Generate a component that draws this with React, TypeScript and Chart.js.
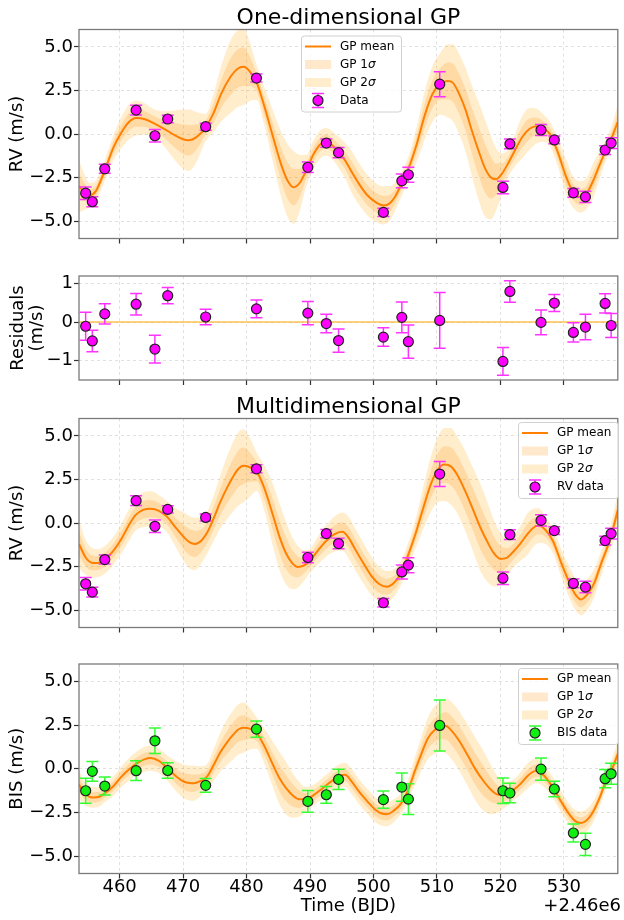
import React, { useEffect, useRef } from "react";
import { Chart, registerables } from "chart.js";

Chart.register(...registerables);

const FONT = "'DejaVu Sans', 'Liberation Sans', sans-serif";
const W = 624;
const H = 920;
const X_MIN = 453.6;
const X_MAX = 538.5;

// ---- observations ----
const obsTime = [454.65, 455.7, 457.66, 462.6, 465.56, 467.58, 473.56, 481.56, 489.66, 492.57, 494.5, 501.56, 504.47, 505.5, 510.44, 520.4, 521.5, 526.4, 528.5, 531.5, 533.4, 536.5, 537.45];
const rvOneDim = [-3.4, -3.89, -2.0, 1.37, -0.1, 0.86, 0.42, 3.21, -1.91, -0.52, -1.07, -4.5, -2.69, -2.34, 2.86, -3.07, -0.57, 0.23, -0.34, -3.38, -3.61, -0.92, -0.52];
const rvErr = [0.36, 0.28, 0.26, 0.28, 0.36, 0.21, 0.2, 0.23, 0.3, 0.24, 0.3, 0.24, 0.4, 0.43, 0.72, 0.36, 0.28, 0.32, 0.22, 0.25, 0.33, 0.25, 0.31];
const residuals = [-0.11, -0.49, 0.21, 0.46, -0.7, 0.68, 0.13, 0.34, 0.23, -0.04, -0.48, -0.39, 0.12, -0.51, 0.04, -1.02, 0.79, -0.01, 0.49, -0.27, -0.13, 0.48, -0.09];
const rvMulti = [-3.49, -3.97, -2.1, 1.28, -0.19, 0.78, 0.32, 3.11, -1.98, -0.61, -1.18, -4.58, -2.81, -2.42, 2.81, -3.17, -0.67, 0.15, -0.44, -3.47, -3.68, -1.01, -0.61];
const bisValues = [-1.26, -0.15, -0.99, -0.11, 1.6, -0.1, -0.95, 2.27, -1.87, -1.49, -0.61, -1.77, -1.05, -1.74, 2.48, -1.26, -1.39, -0.02, -1.16, -3.68, -4.33, -0.57, -0.29];
const bisErr = [0.72, 0.57, 0.52, 0.57, 0.73, 0.45, 0.39, 0.46, 0.62, 0.48, 0.58, 0.49, 0.81, 0.88, 1.46, 0.73, 0.56, 0.64, 0.45, 0.51, 0.64, 0.52, 0.6];

// ---- GP predictions: [time, mean, sigma] ----
const gpOneDim: number[][] = [
  [453.6, -3.0, 0.75], [454.5, -3.35, 0.5], [455.3, -3.52, 0.35], [456.3, -3.25, 0.3], [457.7, -2.05, 0.3],
  [459.0, -0.8, 0.35], [460.3, 0.1, 0.45], [461.5, 0.7, 0.5], [462.6, 0.92, 0.5], [464.0, 0.85, 0.45],
  [465.5, 0.6, 0.4], [467.0, 0.3, 0.5], [468.6, -0.05, 0.7], [470.0, -0.3, 0.85], [470.9, -0.36, 0.88],
  [472.2, -0.15, 0.7], [473.5, 0.35, 0.4], [474.8, 1.2, 0.55], [476.0, 2.3, 0.8], [477.5, 3.3, 1.05],
  [478.6, 3.75, 1.1], [479.5, 3.86, 1.1], [480.5, 3.6, 0.85], [481.6, 2.95, 0.5], [482.8, 1.6, 0.55],
  [484.2, -0.2, 0.75], [485.5, -1.8, 0.95], [486.5, -2.7, 1.05], [487.4, -3.06, 1.05], [488.4, -2.8, 0.8],
  [489.4, -2.1, 0.45], [490.5, -1.2, 0.4], [491.6, -0.6, 0.4], [492.6, -0.45, 0.4], [493.5, -0.65, 0.4],
  [494.5, -1.05, 0.45], [495.5, -1.5, 0.5], [496.6, -2.2, 0.6], [497.7, -2.85, 0.6], [499.0, -3.5, 0.58],
  [500.5, -3.95, 0.55], [501.6, -4.1, 0.55], [502.5, -4.0, 0.5], [503.4, -3.6, 0.4], [504.5, -2.8, 0.35],
  [505.5, -2.0, 0.35], [506.8, -0.6, 0.5], [508.1, 1.1, 0.7], [509.3, 2.3, 0.8], [510.6, 2.9, 0.9],
  [511.7, 3.05, 1.05], [512.5, 2.95, 1.1], [513.5, 2.3, 1.15], [514.5, 1.4, 1.2], [515.5, 0.2, 1.3],
  [516.5, -0.9, 1.4], [517.5, -1.9, 1.4], [518.5, -2.5, 1.2], [519.3, -2.6, 0.9], [520.2, -2.3, 0.6],
  [521.2, -1.7, 0.4], [522.2, -1.0, 0.45], [523.4, -0.2, 0.6], [524.6, 0.3, 0.6], [525.7, 0.45, 0.5],
  [526.7, 0.35, 0.4], [527.8, 0.0, 0.35], [529.0, -1.0, 0.4], [530.4, -2.5, 0.5], [531.5, -3.35, 0.45],
  [532.7, -3.62, 0.45], [533.7, -3.35, 0.45], [534.6, -2.7, 0.5], [535.6, -1.8, 0.4], [536.6, -0.95, 0.3],
  [537.5, -0.25, 0.35], [538.5, 0.7, 0.5],
];

const gpMultiRV: number[][] = [
  [453.6, -1.2, 0.7], [454.6, -1.95, 0.5], [455.6, -2.28, 0.43], [456.6, -2.3, 0.4], [457.7, -2.1, 0.4],
  [459.0, -1.6, 0.4], [460.3, -0.9, 0.42], [461.5, -0.1, 0.45], [462.5, 0.45, 0.45], [463.7, 0.75, 0.5],
  [464.9, 0.82, 0.5], [466.2, 0.7, 0.45], [467.5, 0.35, 0.45], [468.8, -0.25, 0.55], [470.1, -0.8, 0.7],
  [471.0, -1.1, 0.75], [471.9, -1.2, 0.75], [472.9, -1.0, 0.65], [473.8, -0.55, 0.6], [474.8, 0.25, 0.65],
  [475.8, 1.15, 0.75], [476.9, 2.0, 0.9], [477.9, 2.67, 1.0], [478.7, 3.1, 1.05], [479.5, 3.28, 1.05],
  [480.5, 3.2, 0.85], [481.6, 2.95, 0.55], [482.8, 2.0, 0.65], [484.2, 0.4, 0.9], [485.2, -0.8, 0.95],
  [486.2, -1.72, 0.9], [487.2, -2.3, 0.75], [488.1, -2.52, 0.6], [489.0, -2.45, 0.45], [489.9, -2.2, 0.35],
  [491.2, -1.6, 0.4], [492.5, -1.05, 0.45], [493.8, -0.65, 0.5], [495.1, -0.5, 0.55], [496.1, -0.85, 0.6],
  [497.1, -1.5, 0.6], [498.4, -2.3, 0.58], [499.7, -3.05, 0.55], [500.9, -3.5, 0.5], [502.1, -3.66, 0.45],
  [503.2, -3.45, 0.4], [504.2, -2.96, 0.35], [505.3, -2.0, 0.35], [506.5, -0.76, 0.4], [507.8, 0.8, 0.6],
  [509.1, 2.29, 0.8], [510.2, 3.1, 0.95], [511.2, 3.36, 1.05], [512.2, 3.25, 1.1], [513.2, 2.77, 1.1],
  [514.5, 1.8, 1.15], [515.8, 0.67, 1.2], [516.9, -0.3, 1.25], [517.9, -1.05, 1.15], [519.0, -1.75, 0.95],
  [520.0, -2.06, 0.75], [521.0, -2.0, 0.55], [522.1, -1.62, 0.45], [523.2, -1.15, 0.5], [524.2, -0.67, 0.6],
  [525.1, -0.3, 0.55], [526.0, -0.15, 0.5], [527.1, -0.4, 0.4], [528.3, -1.05, 0.35], [529.6, -2.3, 0.4],
  [530.9, -3.44, 0.45], [531.8, -4.1, 0.45], [532.7, -4.39, 0.45], [533.7, -4.1, 0.45], [534.8, -3.44, 0.4],
  [535.9, -2.3, 0.35], [536.9, -1.34, 0.3], [537.7, -0.4, 0.4], [538.5, 0.75, 0.5],
];

const gpMultiBIS: number[][] = [
  [453.6, -0.9, 0.4], [454.6, -1.45, 0.33], [455.8, -1.64, 0.3], [456.8, -1.6, 0.28], [457.7, -1.4, 0.25],
  [459.0, -1.0, 0.28], [460.3, -0.45, 0.3], [461.6, 0.0, 0.33], [462.9, 0.35, 0.35], [464.0, 0.55, 0.36],
  [464.9, 0.61, 0.36], [466.2, 0.45, 0.35], [467.5, 0.05, 0.36], [468.8, -0.4, 0.42], [470.1, -0.73, 0.48],
  [471.0, -0.82, 0.5], [471.7, -0.83, 0.5], [472.8, -0.7, 0.42], [473.8, -0.44, 0.36], [474.8, 0.2, 0.45],
  [475.8, 0.9, 0.55], [476.9, 1.5, 0.65], [477.9, 1.95, 0.7], [478.7, 2.25, 0.72], [479.5, 2.35, 0.72],
  [480.5, 2.3, 0.6], [481.6, 2.04, 0.45], [482.8, 1.3, 0.5], [484.2, 0.2, 0.65], [485.2, -0.55, 0.75],
  [486.2, -1.1, 0.75], [487.2, -1.5, 0.65], [488.3, -1.75, 0.5], [489.3, -1.75, 0.35], [490.4, -1.55, 0.3],
  [491.7, -1.2, 0.3], [493.0, -0.82, 0.3], [494.4, -0.45, 0.33], [495.5, -0.35, 0.35], [496.6, -0.75, 0.36],
  [497.7, -1.3, 0.36], [499.0, -1.85, 0.36], [500.3, -2.35, 0.36], [501.2, -2.55, 0.35], [502.1, -2.6, 0.35],
  [503.2, -2.4, 0.33], [504.4, -1.97, 0.3], [505.5, -1.2, 0.32], [506.5, -0.15, 0.4], [507.6, 0.9, 0.5],
  [508.6, 1.76, 0.6], [509.6, 2.2, 0.68], [510.6, 2.42, 0.72], [511.4, 2.45, 0.78], [512.2, 2.23, 0.82],
  [513.5, 1.6, 0.85], [514.8, 0.8, 0.88], [516.1, -0.05, 0.9], [517.4, -0.73, 0.85], [518.5, -1.2, 0.7],
  [519.7, -1.49, 0.5], [520.9, -1.45, 0.35], [522.1, -1.2, 0.3], [523.2, -0.85, 0.33], [524.2, -0.44, 0.36],
  [525.0, -0.2, 0.36], [525.7, -0.11, 0.35], [526.9, -0.4, 0.32], [528.3, -1.1, 0.3], [529.6, -1.9, 0.3],
  [530.9, -2.63, 0.3], [531.8, -3.0, 0.32], [532.7, -3.11, 0.33], [533.6, -2.95, 0.32], [534.5, -2.54, 0.3],
  [535.6, -1.7, 0.27], [536.6, -0.73, 0.26], [537.5, -0.1, 0.3], [538.5, 0.85, 0.35],
];

// ---- ticks ----
const xTicks = [460, 470, 480, 490, 500, 510, 520, 530];
const rvTicks = [-5, -2.5, 0, 2.5, 5];
const resTicks = [-1, 0, 1];

// ---- styles ----
const MEAN_COLOR = "#ff8000";
const SIG1_COLOR = "rgba(255,140,0,0.2)";
const SIG2_COLOR = "rgba(255,165,0,0.2)";
const MAGENTA = "#ff00ff";
const MAGENTA_ERR = "#ff33ff";
const GREEN = "#11ee11";
const GREEN_ERR = "#33ff33";
const GRID = "rgba(170,170,170,0.45)";
const FRAME = "#7a7a7a";

type Panel = {
  top: number;
  bottom: number;
  yMin: number;
  yMax: number;
  yTicks: number[];
  yFmt: (v: number) => string;
  yTitle: string | string[];
  yTitlePad: number;
  yTitleLH: number;
  title?: string;
  gp?: number[][];
  zeroLine?: boolean;
  values: number[];
  errors: number[];
  fill: string;
  errColor: string;
  legend?: { x: number; y: number; label: string };
  xLabels: boolean;
};

const minus = (s: string) => s.replace("-", "\u2212");

const panels: Panel[] = [
  {
    top: 29.5, bottom: 238.5, yMin: -6, yMax: 6, yTicks: rvTicks,
    yFmt: (v) => minus(v.toFixed(1)), yTitle: "RV (m/s)", yTitlePad: 7, yTitleLH: 1.2,
    title: "One-dimensional GP", gp: gpOneDim, values: rvOneDim, errors: rvErr,
    fill: MAGENTA, errColor: MAGENTA_ERR, legend: { x: 301, y: 35.5, label: "Data" }, xLabels: false,
  },
  {
    top: 276, bottom: 380, yMin: -1.5, yMax: 1.19, yTicks: resTicks,
    yFmt: (v) => minus(String(v)), yTitle: ["Residuals", "(m/s)"], yTitlePad: 8.5, yTitleLH: 1.06,
    zeroLine: true, values: residuals, errors: rvErr,
    fill: MAGENTA, errColor: MAGENTA_ERR, xLabels: false,
  },
  {
    top: 418.5, bottom: 627.5, yMin: -6, yMax: 6, yTicks: rvTicks,
    yFmt: (v) => minus(v.toFixed(1)), yTitle: "RV (m/s)", yTitlePad: 7, yTitleLH: 1.2,
    title: "Multidimensional GP", gp: gpMultiRV, values: rvMulti, errors: rvErr,
    fill: MAGENTA, errColor: MAGENTA_ERR, legend: { x: 518, y: 422, label: "RV data" }, xLabels: false,
  },
  {
    top: 664, bottom: 873.5, yMin: -6, yMax: 6, yTicks: rvTicks,
    yFmt: (v) => minus(v.toFixed(1)), yTitle: "BIS (m/s)", yTitlePad: 7, yTitleLH: 1.2,
    gp: gpMultiBIS, values: bisValues, errors: bisErr,
    fill: GREEN, errColor: GREEN_ERR, legend: { x: 518, y: 668, label: "BIS data" }, xLabels: true,
  },
];

function roundRect(ctx: CanvasRenderingContext2D, x: number, y: number, w: number, h: number, r: number) {
  ctx.beginPath();
  ctx.moveTo(x + r, y);
  ctx.lineTo(x + w - r, y);
  ctx.quadraticCurveTo(x + w, y, x + w, y + r);
  ctx.lineTo(x + w, y + h - r);
  ctx.quadraticCurveTo(x + w, y + h, x + w - r, y + h);
  ctx.lineTo(x + r, y + h);
  ctx.quadraticCurveTo(x, y + h, x, y + h - r);
  ctx.lineTo(x, y + r);
  ctx.quadraticCurveTo(x, y, x + r, y);
  ctx.closePath();
}

function drawErrorMarker(ctx: CanvasRenderingContext2D, cx: number, cy: number, half: number, fill: string, errColor: string) {
  ctx.strokeStyle = errColor;
  ctx.lineWidth = 1.5;
  ctx.beginPath();
  ctx.moveTo(cx, cy - half);
  ctx.lineTo(cx, cy + half);
  ctx.moveTo(cx - 6, cy - half);
  ctx.lineTo(cx + 6, cy - half);
  ctx.moveTo(cx - 6, cy + half);
  ctx.lineTo(cx + 6, cy + half);
  ctx.stroke();
}

function drawLegend(ctx: CanvasRenderingContext2D, p: Panel) {
  if (!p.legend) return;
  const { x, y, label } = p.legend;
  const w = 100;
  const h = 76;
  ctx.save();
  ctx.fillStyle = "rgba(255,255,255,0.8)";
  ctx.strokeStyle = "#d0d0d0";
  ctx.lineWidth = 1;
  roundRect(ctx, x + 0.5, y + 0.5, w, h, 3);
  ctx.fill();
  ctx.stroke();
  const rows = [y + 11, y + 29, y + 47, y + 65];
  const hx0 = x + 4;
  const hx1 = x + 30;
  ctx.strokeStyle = MEAN_COLOR;
  ctx.lineWidth = 2;
  ctx.beginPath();
  ctx.moveTo(hx0, rows[0]);
  ctx.lineTo(hx1, rows[0]);
  ctx.stroke();
  ctx.fillStyle = SIG1_COLOR;
  ctx.fillRect(hx0, rows[1] - 4.5, hx1 - hx0, 9);
  ctx.fillStyle = SIG2_COLOR;
  ctx.fillRect(hx0, rows[2] - 4.5, hx1 - hx0, 9);
  const cx = (hx0 + hx1) / 2;
  drawErrorMarker(ctx, cx, rows[3], 7, p.fill, p.errColor);
  ctx.beginPath();
  ctx.arc(cx, rows[3], 5, 0, Math.PI * 2);
  ctx.fillStyle = p.fill;
  ctx.fill();
  ctx.strokeStyle = "#222";
  ctx.lineWidth = 1.2;
  ctx.stroke();
  ctx.fillStyle = "#000";
  ctx.textBaseline = "middle";
  ctx.textAlign = "left";
  const tx = x + 39;
  ctx.font = `12px ${FONT}`;
  ctx.fillText("GP mean", tx, rows[0]);
  for (const [row, num] of [[rows[1], "1"], [rows[2], "2"]] as [number, string][]) {
    ctx.font = `12px ${FONT}`;
    const pre = `GP ${num}`;
    ctx.fillText(pre, tx, row);
    const wpre = ctx.measureText(pre).width;
    ctx.font = `italic 12px ${FONT}`;
    ctx.fillText("\u03c3", tx + wpre, row);
  }
  ctx.font = `12px ${FONT}`;
  ctx.fillText(label, tx, rows[3]);
  ctx.restore();
}

function makeConfig(p: Panel): any {
  const datasets: any[] = [];
  datasets.push({
    data: obsTime.map((t, i) => ({ x: t, y: p.values[i] })),
    showLine: false,
    pointRadius: 5,
    pointHoverRadius: 5,
    pointBackgroundColor: p.fill,
    pointBorderColor: "#222",
    pointBorderWidth: 1.2,
    borderColor: "transparent",
  });
  if (p.zeroLine) {
    datasets.push({
      data: [{ x: X_MIN, y: 0 }, { x: X_MAX, y: 0 }],
      borderColor: "#ffa500",
      borderWidth: 1.2,
      pointRadius: 0,
    });
  }
  if (p.gp) {
    const gp = p.gp;
    const line = (k: number) => gp.map((r) => ({ x: r[0], y: r[1] + k * r[2] }));
    const common = { pointRadius: 0, cubicInterpolationMode: "monotone" };
    datasets.push({ ...common, data: line(0), borderColor: MEAN_COLOR, borderWidth: 2, fill: false });
    const base = datasets.length;
    datasets.push({ ...common, data: line(1), borderColor: "transparent", borderWidth: 0, backgroundColor: SIG1_COLOR, fill: base + 1 });
    datasets.push({ ...common, data: line(-1), borderColor: "transparent", borderWidth: 0, fill: false });
    datasets.push({ ...common, data: line(2), borderColor: "transparent", borderWidth: 0, backgroundColor: SIG2_COLOR, fill: base + 3 });
    datasets.push({ ...common, data: line(-2), borderColor: "transparent", borderWidth: 0, fill: false });
  }

  const deco = {
    id: "deco",
    beforeDatasetDraw(chart: any, args: any) {
      if (args.index !== 0) return;
      const { ctx, scales } = chart;
      const xs = scales.x;
      const ys = scales.y;
      ctx.save();
      obsTime.forEach((t, i) => {
        const px = xs.getPixelForValue(t);
        const py = ys.getPixelForValue(p.values[i]);
        const half = Math.abs(ys.getPixelForValue(p.values[i] + p.errors[i]) - py);
        drawErrorMarker(ctx, px, py, half, p.fill, p.errColor);
      });
      ctx.restore();
    },
    afterDatasetsDraw(chart: any) {
      const { ctx, chartArea: a } = chart;
      ctx.save();
      ctx.strokeStyle = FRAME;
      ctx.lineWidth = 1.3;
      ctx.strokeRect(a.left, a.top, a.right - a.left, a.bottom - a.top);
      if (p.title) {
        ctx.fillStyle = "#000";
        ctx.font = `22px ${FONT}`;
        ctx.textAlign = "center";
        ctx.textBaseline = "middle";
        ctx.fillText(p.title, (a.left + a.right) / 2, a.top - 11);
      }
      if (p.xLabels) {
        ctx.fillStyle = "#000";
        ctx.font = `18px ${FONT}`;
        ctx.textAlign = "right";
        ctx.textBaseline = "middle";
        ctx.fillText("+2.46e6", 621, 906.5);
      }
      ctx.restore();
      drawLegend(ctx, p);
    },
  };

  return {
    type: "line",
    data: { datasets },
    plugins: [deco],
    options: {
      responsive: false,
      animation: false,
      devicePixelRatio: 1,
      events: [],
      layout: { padding: { top: p.top, bottom: 0, left: 0, right: 1 } },
      plugins: { legend: { display: false }, tooltip: { enabled: false }, title: { display: false } },
      scales: {
        x: {
          type: "linear",
          min: X_MIN,
          max: X_MAX,
          position: "bottom",
          afterBuildTicks: (s: any) => {
            s.ticks = xTicks.map((v) => ({ value: v }));
          },
          afterFit: (s: any) => {
            s.height = H - p.bottom;
          },
          grid: { color: GRID, lineWidth: 0.8, drawTicks: true, tickLength: 5, tickColor: "#333", tickWidth: 1.2, tickBorderDash: [] },
          border: { display: false, dash: [3, 3] },
          ticks: {
            display: p.xLabels,
            color: "#000",
            font: { family: FONT, size: 18, lineHeight: 1 },
            padding: 0,
            maxRotation: 0,
            autoSkip: false,
            callback: (v: number) => String(v),
          },
          title: {
            display: p.xLabels,
            text: "Time (BJD)",
            color: "#000",
            font: { family: FONT, size: 18, lineHeight: 1.2 },
            padding: { top: 0, bottom: 2.5 },
          },
        },
        y: {
          type: "linear",
          min: p.yMin,
          max: p.yMax,
          position: "left",
          afterBuildTicks: (s: any) => {
            s.ticks = p.yTicks.map((v) => ({ value: v }));
          },
          afterFit: (s: any) => {
            s.width = 79;
          },
          grid: { color: GRID, lineWidth: 0.8, drawTicks: true, tickLength: 5, tickColor: "#333", tickWidth: 1.2, tickBorderDash: [] },
          border: { display: false, dash: [3, 3] },
          ticks: {
            color: "#000",
            font: { family: FONT, size: 18, lineHeight: 1.2 },
            padding: 1,
            autoSkip: false,
            callback: (v: number) => p.yFmt(v),
          },
          title: {
            display: true,
            text: p.yTitle,
            color: "#000",
            font: { family: FONT, size: 18, lineHeight: p.yTitleLH },
            padding: { top: p.yTitlePad, bottom: 0 },
          },
        },
      },
    },
  };
}

function PanelCanvas({ panel }: { panel: Panel }) {
  const ref = useRef<HTMLCanvasElement | null>(null);
  useEffect(() => {
    if (!ref.current) return;
    const chart = new Chart(ref.current, makeConfig(panel));
    return () => chart.destroy();
  }, [panel]);
  return (
    <canvas
      ref={ref}
      width={W}
      height={H}
      style={{ position: "absolute", left: 0, top: 0, width: W, height: H }}
    />
  );
}

export default function App() {
  return (
    <div style={{ position: "absolute", left: 0, top: 0, width: W, height: H, background: "#fff", overflow: "hidden" }}>
      {panels.map((p, i) => (
        <PanelCanvas key={i} panel={p} />
      ))}
    </div>
  );
}
